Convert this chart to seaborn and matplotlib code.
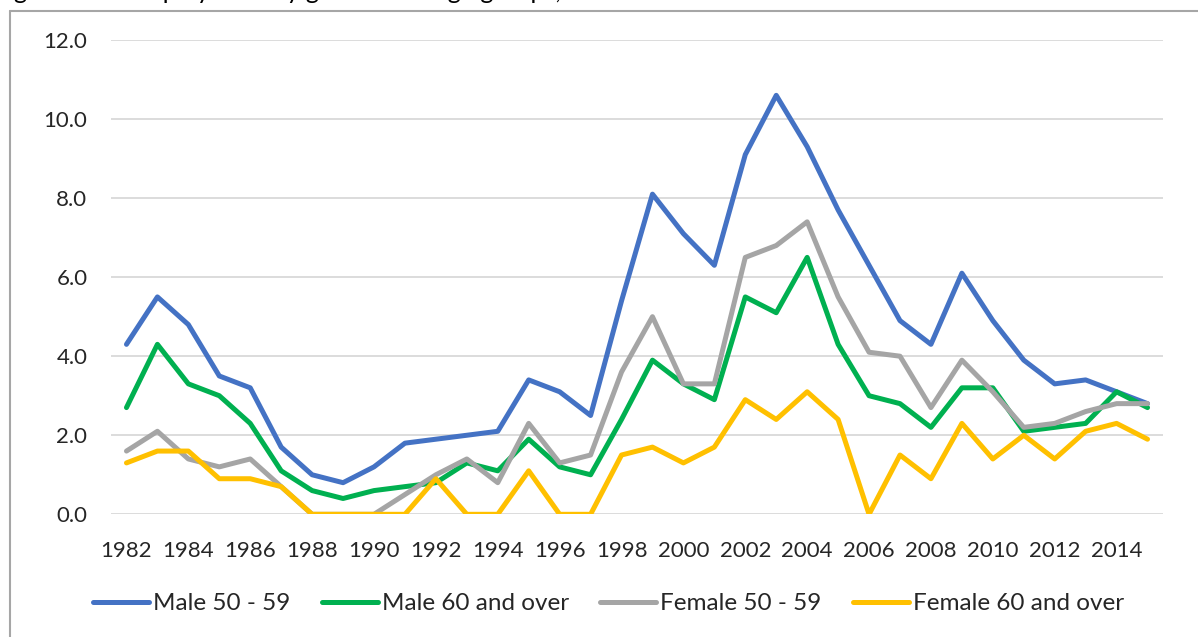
import pandas as pd
import numpy as np
import matplotlib.pyplot as plt
import seaborn as sns
from matplotlib.lines import Line2D

years = list(range(1982, 2016))

male_50_59 = [4.3, 5.5, 4.8, 3.5, 3.2, 1.7, 1.0, 0.8, 1.2, 1.8, 1.9, 2.0, 2.1, 3.4, 3.1, 2.5, 5.4,
              8.1, 7.1, 6.3, 9.1, 10.6, 9.3, 7.7, 6.3, 4.9, 4.3, 6.1, 4.9, 3.9, 3.3, 3.4, 3.1, 2.8]
male_60_over = [2.7, 4.3, 3.3, 3.0, 2.3, 1.1, 0.6, 0.4, 0.6, 0.7, 0.8, 1.3, 1.1, 1.9, 1.2, 1.0, 2.4,
                3.9, 3.3, 2.9, 5.5, 5.1, 6.5, 4.3, 3.0, 2.8, 2.2, 3.2, 3.2, 2.1, 2.2, 2.3, 3.1, 2.7]
female_50_59 = [1.6, 2.1, 1.4, 1.2, 1.4, 0.7, 0.0, 0.0, 0.0, 0.5, 1.0, 1.4, 0.8, 2.3, 1.3, 1.5, 3.6,
                5.0, 3.3, 3.3, 6.5, 6.8, 7.4, 5.5, 4.1, 4.0, 2.7, 3.9, 3.1, 2.2, 2.3, 2.6, 2.8, 2.8]
female_60_over = [1.3, 1.6, 1.6, 0.9, 0.9, 0.7, 0.0, 0.0, 0.0, 0.0, 0.9, 0.0, 0.0, 1.1, 0.0, 0.0, 1.5,
                  1.7, 1.3, 1.7, 2.9, 2.4, 3.1, 2.4, 0.0, 1.5, 0.9, 2.3, 1.4, 2.0, 1.4, 2.1, 2.3, 1.9]

series_names = ["Male 50 - 59", "Male 60 and over", "Female 50 - 59", "Female 60 and over"]
colors = ["#4472C4", "#00B050", "#A5A5A5", "#FFC000"]
y_ticks = [0, 2, 4, 6, 8, 10, 12]
x_ticks = list(range(1982, 2015, 2))

title_text = "Figure 4: Unemployment by gender and age groups, 1982-2015"

df = pd.DataFrame({"year": years,
                   series_names[0]: male_50_59,
                   series_names[1]: male_60_over,
                   series_names[2]: female_50_59,
                   series_names[3]: female_60_over})
df = df.melt(id_vars="year", var_name="series", value_name="value")

sns.set_style("white")
plt.rcParams['font.family'] = ['Lato', 'DejaVu Sans']

fig = plt.figure(figsize=(11.98, 6.37), dpi=100)
ax = fig.add_axes([111 / 1198, 1 - 514.3 / 637, (1163 - 111) / 1198, (514.3 - 40) / 637])

sns.lineplot(data=df, x="year", y="value", hue="series", hue_order=series_names,
             palette=colors, linewidth=3.6, ax=ax, legend=True)

ax.set_xlim(1981.5, 2015.5)
ax.set_ylim(0, 12)
ax.set_yticks(y_ticks)
ax.set_yticklabels([f"{v:.1f}" for v in y_ticks])
ax.set_xticks(x_ticks)
ax.set_xticklabels([str(y) for y in x_ticks])
ax.grid(axis="y", color="#D9D9D9", linewidth=1.3)
ax.set_axisbelow(True)
for s in ax.spines.values():
    s.set_visible(False)
ax.tick_params(axis="both", length=0, labelsize=16, colors="#262626")
ax.tick_params(axis="y", pad=17)
ax.tick_params(axis="x", pad=19)
ax.set_xlabel("")
ax.set_ylabel("")

ax.legend(loc="center", bbox_to_anchor=(0.508, 0.052), bbox_transform=fig.transFigure,
          ncol=4, frameon=False, fontsize=17.5, handlelength=2.3, handletextpad=0.16,
          columnspacing=1.3, labelcolor="#262626")
for h in ax.get_legend().get_lines():
    h.set_linewidth(3.6)

# chart border, cut off at right and bottom
fig.add_artist(Line2D([10 / 1198, 10 / 1198], [0, 1 - 11 / 637], color="#A6A6A6", linewidth=1.5))
fig.add_artist(Line2D([10 / 1198, 1], [1 - 11 / 637, 1 - 11 / 637], color="#A6A6A6", linewidth=1.5))

# title sits above the visible area, only its descenders show
fig.text(-0.005, 1 + 1 / 637, title_text, fontsize=18, color="#000000", va="baseline", ha="left")

fig.savefig("out.png", dpi=100)
